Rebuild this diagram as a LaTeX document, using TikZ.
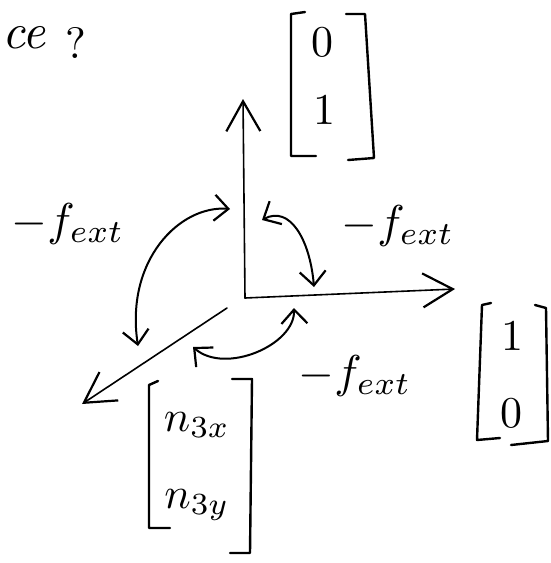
\documentclass[tikz,border=0pt]{standalone}
\usetikzlibrary{arrows.meta}
\tikzset{
  axis/.style={line width=1.6pt, line cap=round, -{Straight Barb[length=30pt,width=34pt,line width=2.2pt]}},
  turn/.style={line width=2pt, line cap=round, {Straight Barb[length=14pt,width=26pt,line width=2.2pt]}-{Straight Barb[length=14pt,width=26pt,line width=2.2pt]}},
  brk/.style={line width=2.4pt, line cap=round, line join=round},
  lbl/.style={inner sep=0pt, scale=4.6},
  ent/.style={inner sep=0pt, scale=4.4}
}
\begin{document}
\begin{tikzpicture}[x=1pt,y=-1pt]
\useasboundingbox (0,0) rectangle (551,563);
\fill[white] (0,0) rectangle (551,563);
% axes
\coordinate (O) at (245,298);
\coordinate (ytip) at (243,99);
\coordinate (xtip) at (455,289);
\coordinate (zstart) at (227,308);
\coordinate (ztip) at (82,404);
\draw[axis] (O) -- (ytip);
\draw[axis] (O) -- (xtip);
\draw[axis] (zstart) -- (ztip);
% rotation arcs
\coordinate (a1) at (230,209); \coordinate (b1) at (138,346);
\draw[turn] (a1) .. controls (180,205) and (125,260) .. (b1);
\coordinate (a2) at (262,220); \coordinate (b2) at (314,287);
\draw[turn] (a2) .. controls (290,205) and (310,240) .. (b2);
\coordinate (a3) at (294,308); \coordinate (b3) at (193,347);
\draw[turn] (a3) .. controls (295,345) and (225,375) .. (b3);
% labels
\node[lbl] (f1) at (68,224) {$-f_{ext}$};
\node[lbl] (f2) at (398,226) {$-f_{ext}$};
\node[lbl] (f3) at (355,376) {$-f_{ext}$};
% vector [0;1]
\draw[brk] (305,12) -- (291,14) -- (291,156) -- (316,156);
\draw[brk] (346,14) -- (365,14) -- (374,158) -- (348,160);
\node[ent] (e01) at (322,42) {$0$};
\node[ent] (e02) at (324,110) {$1$};
% vector [1;0]
\draw[brk] (491,303) -- (482,305) -- (477,440) -- (500,438);
\draw[brk] (535,305) -- (546,308) -- (548,441) -- (511,445);
\node[ent] (e11) at (512,336) {$1$};
\node[ent] (e12) at (511,413) {$0$};
% vector [n3x;n3y]
\draw[brk] (158,381) -- (149,385) -- (149,528) -- (170,528);
\draw[brk] (232,379) -- (252,379) -- (250,553) -- (230,553);
\node[ent] (n1) at (197,425) {$n_{3x}$};
\node[ent] (n2) at (197,505) {$n_{3y}$};
% text at top left
\node[inner sep=0pt, scale=5, anchor=base west] (ce) at (1,48) {\textit{ce}};
\node[inner sep=0pt, scale=4.4, anchor=base] (qm) at (76,58) {?};
\end{tikzpicture}
\end{document}
